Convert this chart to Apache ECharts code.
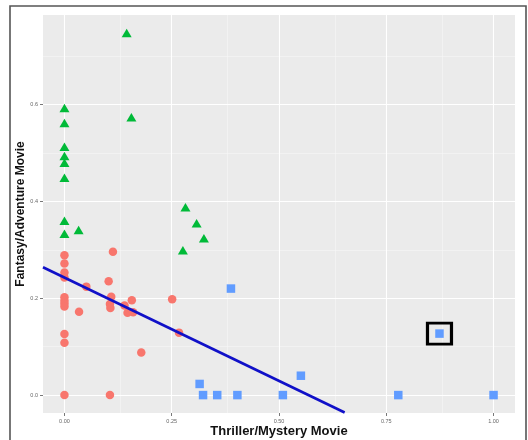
<!DOCTYPE html>
<html>
<head>
<meta charset="utf-8">
<script src="https://cdn.jsdelivr.net/npm/echarts@6/dist/echarts.min.js"></script>
<style>
  html, body { margin: 0; padding: 0; background: #fff; }
  #chart { width: 528px; height: 440px; }
</style>
</head>
<body>
<div id="chart"></div>
<script>
// ---- data ----
const greenX = [0.145, 0, 0, 0.156, 0, 0, 0, 0, 0, 0, 0.033, 0.282, 0.308, 0.325, 0.276];
const greenY = [0.748, 0.593, 0.562, 0.574, 0.513, 0.494, 0.480, 0.449, 0.360, 0.333, 0.341, 0.388, 0.355, 0.324, 0.299];

const redX = [0, 0, 0, 0, 0.051, 0.113, 0.103, 0, 0, 0, 0, 0.034, 0.109, 0.106, 0.107, 0.140, 0.147, 0.157, 0.160, 0.251, 0.267, 0.179, 0, 0, 0, 0.106];
const redY = [0.289, 0.272, 0.253, 0.243, 0.224, 0.296, 0.235, 0.202, 0.195, 0.189, 0.183, 0.172, 0.203, 0.188, 0.180, 0.185, 0.170, 0.196, 0.171, 0.198, 0.129, 0.088, 0.126, 0.108, 0, 0];

const blueX = [0.388, 0.874, 0.551, 0.315, 0.323, 0.356, 0.403, 0.509, 0.778, 1.0];
const blueY = [0.220, 0.127, 0.040, 0.023, 0, 0, 0, 0, 0, 0];

const highlightIndex = 1; // boxed blue point

const fitX = [-0.05, 0.653];
const fitY = [0.264, -0.036];

const xTicks = [0, 0.25, 0.5, 0.75, 1.0];
const xMinor = [0.125, 0.375, 0.625, 0.875];
const yTicks = [0, 0.2, 0.4, 0.6];
const yMinor = [0.1, 0.3, 0.5, 0.7];

const xTitle = 'Thriller/Mystery Movie';
const yTitle = 'Fantasy/Adventure Movie';

// ---- build ----
const zip = (a, b) => a.map((v, i) => [v, b[i]]);
const FONT = 'Liberation Sans, Arial, sans-serif';

const chart = echarts.init(document.getElementById('chart'), null, { renderer: 'canvas' });

const minorStyle = { type: 'solid', width: 0.6, color: '#f6f6f6' };
const majorStyle = { type: 'solid', width: 1.1, color: '#ffffff' };
const gridLines = [].concat(
  xMinor.map(v => ({ xAxis: v, lineStyle: minorStyle })),
  yMinor.map(v => ({ yAxis: v, lineStyle: minorStyle })),
  xTicks.map(v => ({ xAxis: v, lineStyle: majorStyle })),
  yTicks.map(v => ({ yAxis: v, lineStyle: majorStyle }))
);

const option = {
  animation: false,
  backgroundColor: '#ffffff',
  graphic: [{
    type: 'rect',
    shape: { x: 10, y: 6, width: 516, height: 460 },
    style: { fill: 'none', stroke: '#555', lineWidth: 1.6 },
    silent: true, z: 100
  }],
  grid: {
    left: 43, right: 13, top: 15, bottom: 27,
    outerBoundsMode: 'none', containLabel: false,
    show: true, backgroundColor: '#EBEBEB', borderWidth: 0
  },
  xAxis: {
    type: 'value', min: -0.05, max: 1.05, position: 'bottom',
    axisLine: { show: false, onZero: false },
    splitLine: { show: false },
    axisTick: { show: true, length: 3, customValues: xTicks, lineStyle: { color: '#555', width: 0.8 } },
    axisLabel: {
      customValues: xTicks, formatter: v => v.toFixed(2),
      fontSize: 5.5, color: '#666', margin: 5, fontFamily: FONT
    },
    name: xTitle, nameLocation: 'middle', nameGap: 12, nameMoveOverlap: false,
    nameTextStyle: { fontSize: 13, fontWeight: 'bold', color: '#111', fontFamily: FONT }
  },
  yAxis: {
    type: 'value', min: -0.037, max: 0.785, position: 'left',
    axisLine: { show: false, onZero: false },
    splitLine: { show: false },
    axisTick: { show: true, length: 3, customValues: yTicks, lineStyle: { color: '#555', width: 0.8 } },
    axisLabel: {
      customValues: yTicks, formatter: v => v.toFixed(1),
      fontSize: 5.5, color: '#666', margin: 5, fontFamily: FONT
    },
    name: yTitle, nameLocation: 'middle', nameGap: 16, nameMoveOverlap: false,
    nameTextStyle: { fontSize: 12, fontWeight: 'bold', color: '#111', fontFamily: FONT }
  },
  series: [
    {
      type: 'scatter', data: [], z: 0, silent: true,
      markLine: { z: 0, silent: true, symbol: ['none', 'none'], label: { show: false }, animation: false, data: gridLines }
    },
    {
      type: 'scatter', name: 'red', data: zip(redX, redY), z: 3,
      symbol: 'circle', symbolSize: 8.5,
      itemStyle: { color: '#F8766D', opacity: 1 }
    },
    {
      type: 'scatter', name: 'green', data: zip(greenX, greenY), z: 3,
      symbol: 'triangle', symbolSize: [10, 8.5],
      itemStyle: { color: '#00BA38', opacity: 1 }
    },
    {
      type: 'scatter', name: 'blue', data: zip(blueX, blueY), z: 3,
      symbol: 'rect', symbolSize: 8.5,
      itemStyle: { color: '#619CFF', opacity: 1 }
    },
    {
      type: 'line', name: 'fit', data: zip(fitX, fitY), z: 4,
      showSymbol: false, symbol: 'none', clip: true,
      lineStyle: { color: '#1010C8', width: 2.6 }
    },
    {
      type: 'scatter', name: 'box', z: 5,
      data: [[blueX[highlightIndex], blueY[highlightIndex]]],
      symbol: 'rect', symbolSize: [24, 21],
      itemStyle: { color: 'rgba(0,0,0,0)', borderColor: '#000', borderWidth: 3, opacity: 1 }
    }
  ]
};
chart.setOption(option);
</script>
</body>
</html>
